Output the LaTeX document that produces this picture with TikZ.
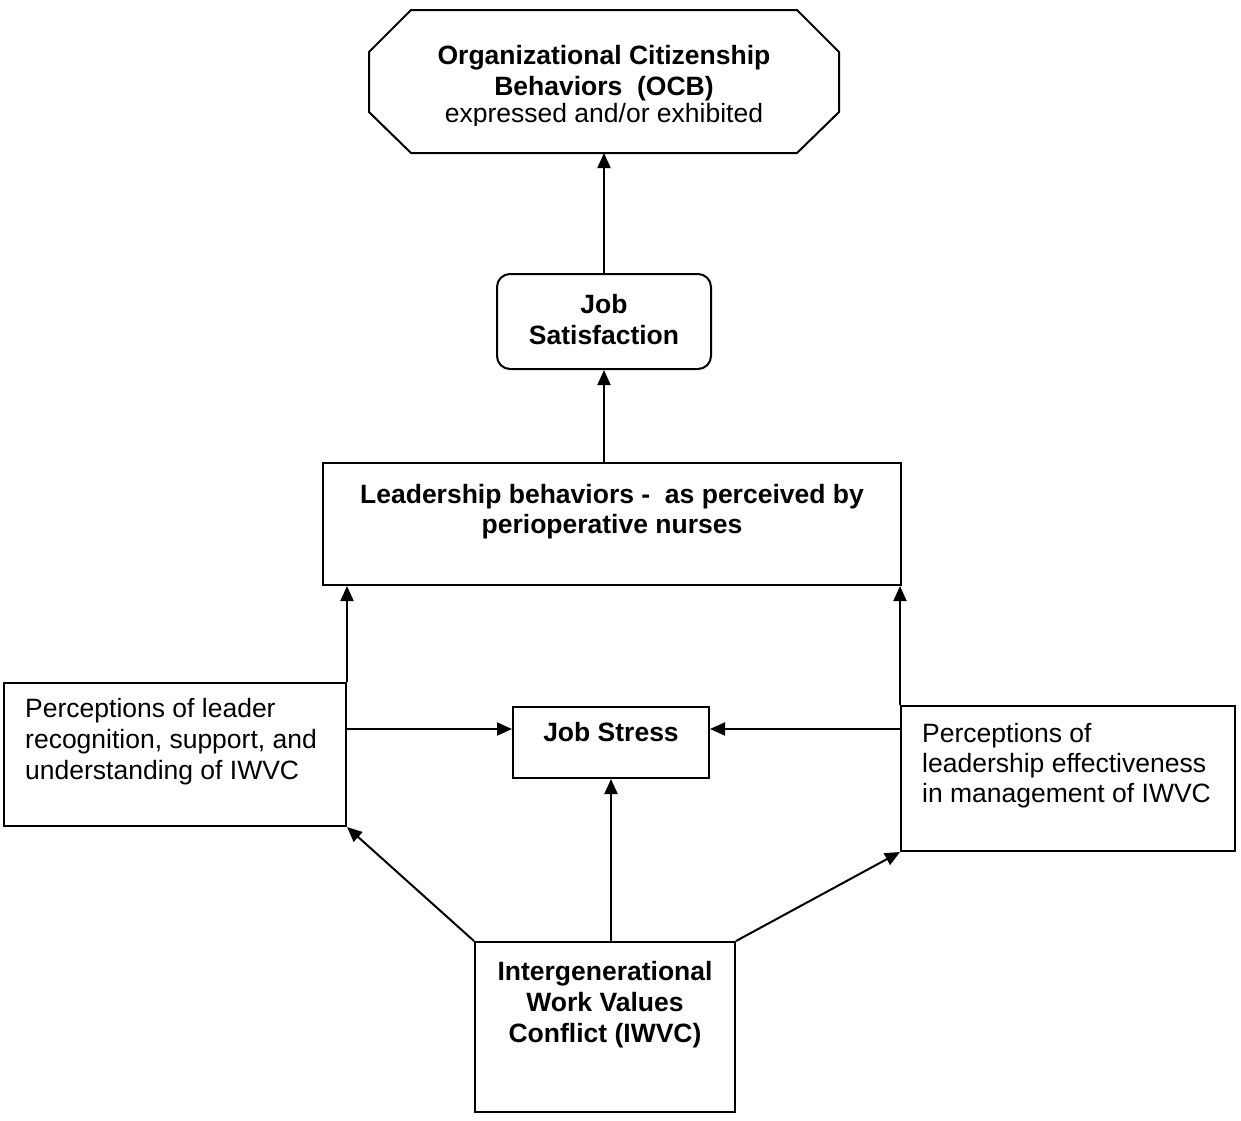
\documentclass[tikz,border=0pt]{standalone}
\usepackage{fontspec}
\setmainfont{Liberation Sans}
\usetikzlibrary{arrows.meta}
\begin{document}
\begin{tikzpicture}[x=1pt,y=-1pt,
  box/.style={draw, line width=2pt, inner sep=0pt},
  bt/.style={inner sep=0pt, anchor=base, font=\fontsize{26.5}{30.5}\selectfont\bfseries},
  rt/.style={inner sep=0pt, anchor=base west, font=\fontsize{26.5}{30.5}\selectfont},
  ct/.style={inner sep=0pt, anchor=base, font=\fontsize{26.5}{30.5}\selectfont},
  arr/.style={draw, line width=2pt, -{Triangle[length=15pt,width=13pt]}}]
\useasboundingbox (0,0) rectangle (1241,1120);

% Octagon (OCB)
\draw[line width=2pt] (411,10) -- (797,10) -- (839,52) -- (839,112) -- (797,153)
  -- (411,153) -- (369,112) -- (369,52) -- cycle;
\coordinate (ocbS) at (604,153);
\node[bt] (ocb1) at (604,64) {Organizational Citizenship};
\node[bt] (ocb2) at (604,95) {Behaviors\ \ (OCB)};
\begin{scope}
  \clip (369,0) rectangle (839,125.5);
  \node[ct] (ocb3) at (604,122.5) {expressed and/or exhibited};
\end{scope}

% Job Satisfaction
\node[box, rounded corners=13pt, minimum width=214pt, minimum height=95pt] (js) at (604,321.5) {};
\node[bt] (js1) at (604,313) {Job};
\node[bt] (js2) at (604,344.5) {Satisfaction};

% Leadership behaviors
\node[box, minimum width=578pt, minimum height=122pt] (lead) at (612,524) {};
\node[bt] (lead1) at (612,503.5) {Leadership behaviors -\ \ as perceived by};
\node[bt] (lead2) at (612,533) {perioperative nurses};

% Left box
\node[box, minimum width=342pt, minimum height=143pt] (left) at (175,754.5) {};
\node[rt] (left1) at (25,717.5) {Perceptions of leader};
\node[rt] (left2) at (25,748.5) {recognition, support, and};
\node[rt] (left3) at (25,779) {understanding of IWVC};

% Job Stress
\node[box, minimum width=196pt, minimum height=71pt] (stress) at (611,742.5) {};
\node[bt] (stress1) at (611,741) {Job Stress};

% Right box
\node[box, minimum width=334pt, minimum height=145pt] (right) at (1068,778.5) {};
\node[rt] (right1) at (922,742) {Perceptions of};
\node[rt] (right2) at (922,772.5) {leadership effectiveness};
\node[rt] (right3) at (922,802.5) {in management of IWVC};

% IWVC
\node[box, minimum width=260pt, minimum height=170pt] (iwvc) at (605,1027) {};
\node[bt] (iwvc1) at (605,980.5) {Intergenerational};
\node[bt] (iwvc2) at (605,1011.5) {Work Values};
\node[bt] (iwvc3) at (605,1042.5) {Conflict (IWVC)};

% Connectors
\coordinate (hl) at (0,729);
\draw[arr] (js.north) -- (ocbS);
\draw[arr] (js.north |- lead.north) -- (js.south);
\draw[arr] (left.north east) -- (left.north east |- lead.south);
\draw[arr] (right.north west) -- (right.north west |- lead.south);
\draw[arr] (left.east |- hl) -- (stress.west |- hl);
\draw[arr] (right.west |- hl) -- (stress.east |- hl);
\draw[arr] (stress.south |- iwvc.north) -- (stress.south);
\draw[arr] (iwvc.north west) -- (left.south east);
\draw[arr] (iwvc.north east) -- (right.south west);
\end{tikzpicture}
\end{document}
